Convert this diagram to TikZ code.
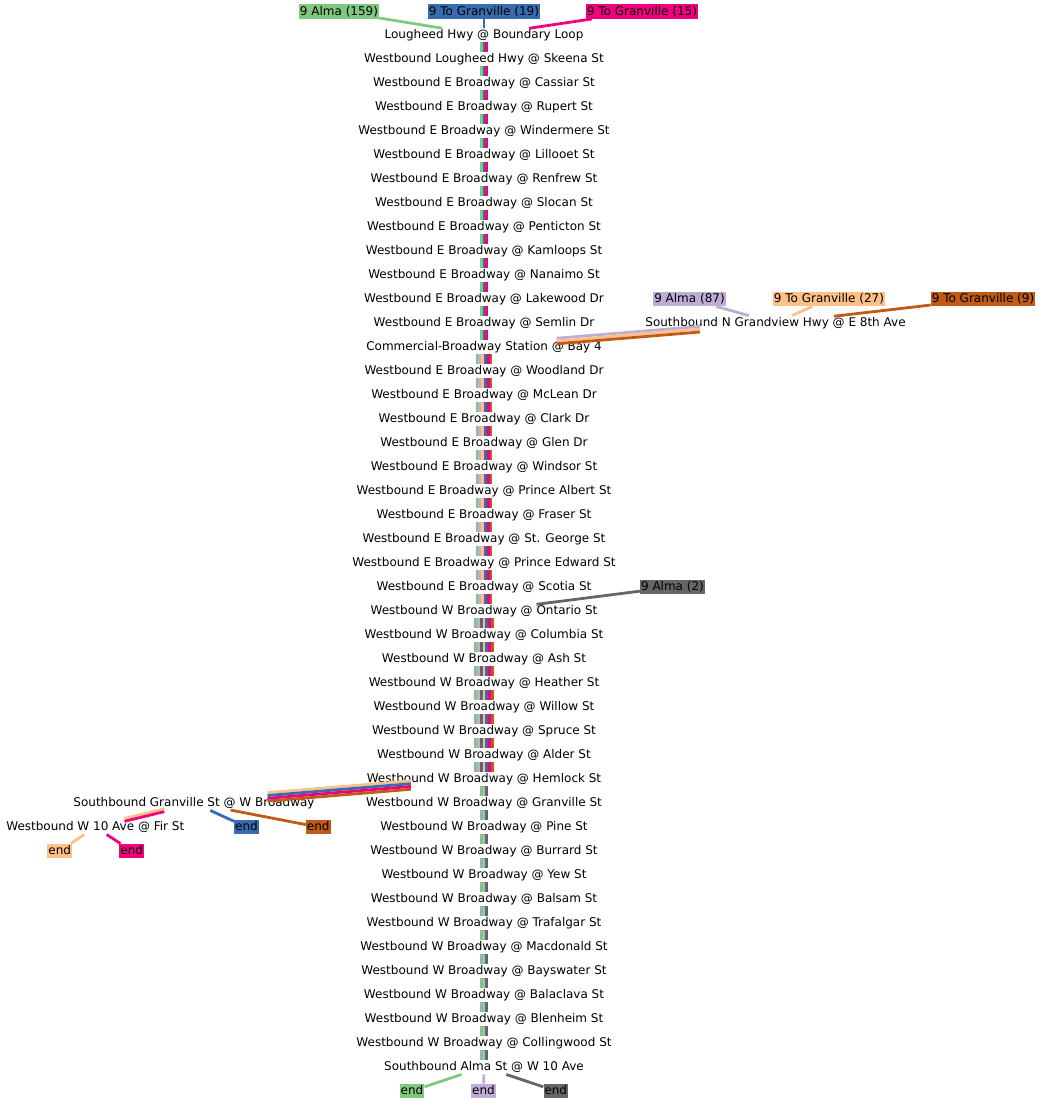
\documentclass[tikz,border=0pt]{standalone}
\usepackage{fontspec}
\setmainfont{DejaVu Sans}
\usepackage{xcolor}

\definecolor{cgreen}{HTML}{7FC97F}
\definecolor{cpurple}{HTML}{BEAED4}
\definecolor{corange}{HTML}{FDC086}
\definecolor{cblue}{HTML}{386CB0}
\definecolor{cpink}{HTML}{F0027F}
\definecolor{cbrown}{HTML}{BF5B17}
\definecolor{cgray}{HTML}{666666}

\begin{document}
\begin{tikzpicture}[
  x=1pt, y=-1pt,
  font=\fontsize{12pt}{14pt}\selectfont,
  stop/.style={inner sep=0pt, text height=11.2pt, text depth=3.3pt},
  tag/.style={stop, inner xsep=1pt, fill=#1},
  route/.style={draw=#1, line width=2.8pt}
]
  \useasboundingbox (0,0) rectangle (1041,1104);

  % stops along Broadway, top to bottom
  \foreach \stopname [count=\i from 0] in {Lougheed Hwy @ Boundary Loop,
    Westbound Lougheed Hwy @ Skeena St,
    Westbound E Broadway @ Cassiar St,
    Westbound E Broadway @ Rupert St,
    Westbound E Broadway @ Windermere St,
    Westbound E Broadway @ Lillooet St,
    Westbound E Broadway @ Renfrew St,
    Westbound E Broadway @ Slocan St,
    Westbound E Broadway @ Penticton St,
    Westbound E Broadway @ Kamloops St,
    Westbound E Broadway @ Nanaimo St,
    Westbound E Broadway @ Lakewood Dr,
    Westbound E Broadway @ Semlin Dr,
    Commercial-Broadway Station @ Bay 4,
    Westbound E Broadway @ Woodland Dr,
    Westbound E Broadway @ McLean Dr,
    Westbound E Broadway @ Clark Dr,
    Westbound E Broadway @ Glen Dr,
    Westbound E Broadway @ Windsor St,
    Westbound E Broadway @ Prince Albert St,
    Westbound E Broadway @ Fraser St,
    Westbound E Broadway @ St. George St,
    Westbound E Broadway @ Prince Edward St,
    Westbound E Broadway @ Scotia St,
    Westbound W Broadway @ Ontario St,
    Westbound W Broadway @ Columbia St,
    Westbound W Broadway @ Ash St,
    Westbound W Broadway @ Heather St,
    Westbound W Broadway @ Willow St,
    Westbound W Broadway @ Spruce St,
    Westbound W Broadway @ Alder St,
    Westbound W Broadway @ Hemlock St,
    Westbound W Broadway @ Granville St,
    Westbound W Broadway @ Pine St,
    Westbound W Broadway @ Burrard St,
    Westbound W Broadway @ Yew St,
    Westbound W Broadway @ Balsam St,
    Westbound W Broadway @ Trafalgar St,
    Westbound W Broadway @ Macdonald St,
    Westbound W Broadway @ Bayswater St,
    Westbound W Broadway @ Balaclava St,
    Westbound W Broadway @ Blenheim St,
    Westbound W Broadway @ Collingwood St,
    Southbound Alma St @ W 10 Ave}
    \node[stop] (s\i) at (484,35+24*\i) {\stopname};

  \node[stop] (gv) at (775.5,323) {Southbound N Grandview Hwy @ E 8th Ave};
  \node[stop] (sbg) at (194,803) {Southbound Granville St @ W Broadway};
  \node[stop] (fir) at (95.3,827) {Westbound W 10 Ave @ Fir St};

  % route start labels
  \node[tag=cgreen] (a159) at (339,11.5) {9 Alma (159)};
  \node[tag=cblue] (g19) at (484,11.5) {9 To Granville (19)};
  \node[tag=cpink] (g15) at (642,11.5) {9 To Granville (15)};
  \node[tag=cpurple] (a87) at (689.5,299) {9 Alma (87)};
  \node[tag=corange] (g27) at (829,299) {9 To Granville (27)};
  \node[tag=cbrown] (g9) at (983,299) {9 To Granville (9)};
  \node[tag=cgray] (a2) at (672.5,587) {9 Alma (2)};

  % end labels
  \node[tag=cblue] (e19) at (246.5,827) {end};
  \node[tag=cbrown] (e9) at (318.3,827) {end};
  \node[tag=corange] (e27) at (59.7,851) {end};
  \node[tag=cpink] (e15) at (131.8,851) {end};
  \node[tag=cgreen] (e159) at (412,1091) {end};
  \node[tag=cpurple] (e87) at (483.5,1091) {end};
  \node[tag=cgray] (e2) at (555.8,1091) {end};

  % trunk segments
  \foreach \i in {0,...,12} {
    \pgfmathtruncatemacro\j{\i+1}
    \foreach \col [count=\k] in {cgreen,cblue,cpink}
      \draw[route=\col] ([xshift={(\k-2)*2.8pt}]s\i.south) -- ([xshift={(\k-2)*2.8pt}]s\j.north);
  }
  \foreach \i in {13,...,23} {
    \pgfmathtruncatemacro\j{\i+1}
    \foreach \col [count=\k] in {cgreen,cpurple,corange,cblue,cpink,cbrown}
      \draw[route=\col] ([xshift={(\k-3.5)*2.8pt}]s\i.south) -- ([xshift={(\k-3.5)*2.8pt}]s\j.north);
  }
  \foreach \i in {24,...,30} {
    \pgfmathtruncatemacro\j{\i+1}
    \foreach \col [count=\k] in {cgreen,cpurple,cgray,corange,cblue,cpink,cbrown}
      \draw[route=\col] ([xshift={(\k-4)*2.8pt}]s\i.south) -- ([xshift={(\k-4)*2.8pt}]s\j.north);
  }
  \foreach \i in {31,...,42} {
    \pgfmathtruncatemacro\j{\i+1}
    \foreach \col [count=\k] in {cgreen,cpurple,cgray}
      \draw[route=\col] ([xshift={(\k-2)*2.8pt}]s\i.south) -- ([xshift={(\k-2)*2.8pt}]s\j.north);
  }

  % branches
  \foreach \col [count=\k] in {cpurple,corange,cbrown}
    \draw[route=\col, transform canvas={yshift={(2-\k)*2.8pt}}, shorten <=-15pt, shorten >=-18pt] (gv) -- (s13);
  \foreach \col [count=\k] in {corange,cblue,cpink,cbrown}
    \draw[route=\col, transform canvas={yshift={(2.5-\k)*2.8pt}}, shorten <=-17pt, shorten >=-16.5pt] (s31) -- (sbg);
  \foreach \col [count=\k] in {corange,cpink}
    \draw[route=\col, transform canvas={yshift={(1.5-\k)*2.8pt}}, shorten <=-1pt, shorten >=-1.5pt] (sbg) -- (fir);

  \draw[route=cgreen, shorten >=-4pt] (a159) -- (s0);
  \draw[route=cblue] (g19) -- (s0);
  \draw[route=cpink, shorten >=-5pt] (g15) -- (s0);
  \draw[route=cpurple] (a87) -- (gv);
  \draw[route=corange] (g27) -- (gv);
  \draw[route=cbrown, shorten >=-6pt] (g9) -- (gv);
  \draw[route=cgray, shorten >=-6pt] (a2) -- (s24);
  \draw[route=cblue] (sbg) -- (e19);
  \draw[route=cbrown, shorten <=-2pt] (sbg) -- (e9);
  \draw[route=corange] (fir) -- (e27);
  \draw[route=cpink] (fir) -- (e15);
  \draw[route=cgreen] (s43) -- (e159);
  \draw[route=cpurple] (s43) -- (e87);
  \draw[route=cgray] (s43) -- (e2);
\end{tikzpicture}
\end{document}
